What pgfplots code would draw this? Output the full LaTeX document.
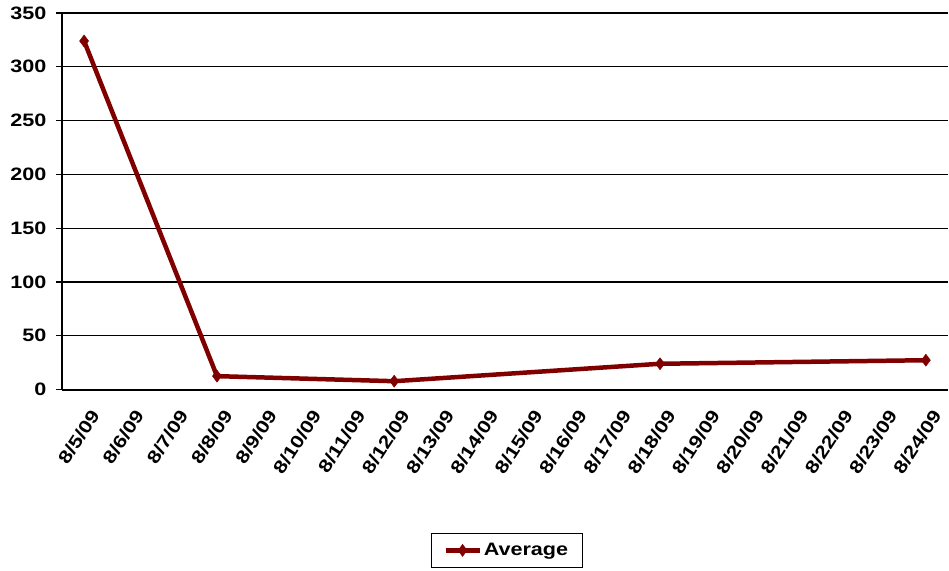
\documentclass[border=0pt]{standalone}
\usepackage{fontspec}
\setmainfont[FakeStretch=1.2]{Liberation Sans}
\usepackage{pgfplots}
\pgfplotsset{compat=1.18}
\pgfplotsset{longlegend/.style={legend image code/.code={\draw[mark repeat=2, mark phase=2, ##1] plot coordinates {(0pt,0pt) (17pt,0pt) (34pt,0pt)};}}}
\definecolor{avgred}{RGB}{128,0,0}
\begin{document}
\begin{tikzpicture}[x=1pt,y=1pt]
\begin{axis}[
  at={(0,0)}, anchor=south west,
  width=887pt, height=377pt, scale only axis,
  xmin=0, xmax=20, ymin=0, ymax=350,
  axis x line=bottom, axis y line=left,
  axis line style={-, line width=2pt, black},
  ytick={0,50,...,350},
  ymajorgrids, major grid style={black, line width=1.2pt},
  y tick style={black, line width=1.2pt},
  major tick length=6pt,
  ytick align=outside,
  xtick={0.5,1.5,...,19.5},
  xticklabels={8/5/09,8/6/09,8/7/09,8/8/09,8/9/09,8/10/09,8/11/09,8/12/09,8/13/09,8/14/09,8/15/09,8/16/09,8/17/09,8/18/09,8/19/09,8/20/09,8/21/09,8/22/09,8/23/09,8/24/09},
  x tick style={draw=none},
  minor xtick={0,1,...,19},
  minor x tick style={black, line width=1.2pt},
  minor tick length=5pt,
  xtick align=outside,
  tick label style={font=\bfseries\fontsize{18}{18}\selectfont},
  /pgf/number format/assume math mode=true,
  yticklabel style={xshift=-6pt},
  xticklabel style={rotate=57, anchor=east, yshift=-18pt, xshift=-4pt},
  legend style={at={(0.502,-0.427)}, anchor=center, draw=black, line width=1.2pt,
    font=\bfseries\fontsize{18}{18}\selectfont, inner xsep=12pt, inner ysep=8pt},
  legend cell align=left,
  clip=false,
]
\addplot[color=avgred, line width=4.5pt, mark=diamond*, mark size=6pt,
  mark options={solid, fill=avgred, line width=0.5pt}, longlegend] table {
x y
0.5 324
3.5 12.5
7.5 7.8
13.5 24
19.5 27.3
};
\addlegendentry{Average}
\end{axis}
\path[use as bounding box] (-62,-181) rectangle (887,390);
\end{tikzpicture}
\end{document}
